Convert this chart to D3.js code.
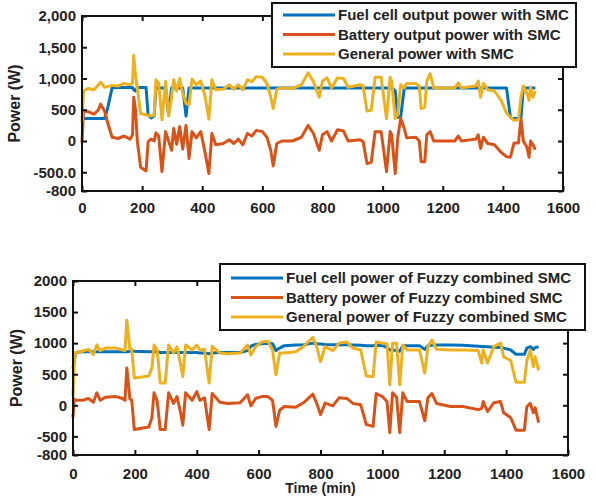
<!DOCTYPE html>
<html>
<head>
<meta charset="utf-8">
<script src="https://cdn.jsdelivr.net/npm/d3@7"></script>
<style>
	body { margin: 0; background: #fff; }
	svg { display: block; font-family: "Liberation Sans", Arial, sans-serif; font-weight: bold; }
</style>
</head>
<body>
<svg width="596" height="496"></svg>
<script>
const COLORS = ["#0072BD", "#D95319", "#EDB120"];

var xTicks = [0, 200, 400, 600, 800, 1000, 1200, 1400, 1600];
var yTicks = [-800, -500, 0, 500, 1000, 1500, 2000];
var topYLabels = ["-800", "-500.0", "0", "500", "1,000", "1,500", "2,000"];
var bottomYLabels = ["-800", "-500", "0", "500", "1000", "1500", "2000"];

var topLegend = ["Fuel cell output power with SMC", "Battery output power with SMC", "General power with SMC"];
var bottomLegend = ["Fuel cell power of Fuzzy combined SMC", "Battery power of Fuzzy combined SMC", "General power of Fuzzy combined SMC"];

// top panel (SMC), time in min
var topTime = [0, 5, 20, 40, 55, 62, 75, 85, 100, 120, 140, 160, 168, 172, 178, 184, 195, 213, 220, 230,
	240, 246, 255, 266, 278, 288, 298, 305, 315, 325, 335, 346, 356, 366, 380, 395, 410, 422, 432, 445,
	470, 490, 505, 520, 535, 550, 565, 580, 600, 615, 628, 636, 648, 665, 700, 730, 752, 770, 789, 800,
	815, 830, 850, 870, 885, 925, 935, 948, 962, 975, 995, 1013, 1025, 1030, 1042, 1050, 1060, 1072, 1080, 1110,
	1122, 1128, 1140, 1147, 1158, 1170, 1240, 1252, 1262, 1310, 1318, 1326, 1335, 1350, 1372, 1394, 1412, 1425, 1437, 1452,
	1460, 1468, 1480, 1487, 1492, 1500, 1508];
var topFuel = [360, 360, 360, 360, 360, 360, 360, 520, 850, 855, 855, 855, 855, 820, 800, 855, 855, 855, 420, 370,
	400, 850, 850, 850, 850, 420, 850, 850, 850, 850, 850, 400, 850, 850, 850, 850, 850, 850, 850, 850,
	850, 850, 850, 850, 850, 850, 850, 850, 850, 850, 850, 850, 850, 850, 850, 850, 850, 850, 850, 850,
	850, 850, 850, 850, 850, 850, 850, 850, 850, 850, 850, 850, 850, 850, 800, 380, 380, 850, 850, 850,
	850, 850, 850, 850, 850, 850, 850, 850, 850, 850, 850, 850, 850, 850, 850, 850, 850, 380, 360, 360,
	360, 850, 850, 850, 850, 850, 850];
var topBattery = [-30, 480, 470, 430, 500, 590, 480, 300, 60, 40, 80, 30, 100, 700, 500, 0, -420, -480, -10, 30,
	0, 130, 80, -490, 150, 0, -150, 200, -50, 230, -130, 250, -280, 150, 50, 150, -200, -520, 120, -60,
	-40, 20, -40, 30, -60, 120, 80, 170, 150, 60, -150, -400, -40, 0, 0, 60, 250, 120, -150, 100,
	150, 0, 180, 160, 0, 20, -10, -360, -340, 150, 150, -490, 150, 100, -520, 40, 360, 200, 50, 60,
	0, -330, -330, 100, 150, 0, 0, 80, 0, 30, 100, -120, 60, -40, -60, -180, -250, -260, -30, -30,
	360, 0, -100, -260, 0, -60, -140];
var topGeneral = [300, 800, 840, 820, 900, 940, 860, 870, 890, 880, 920, 900, 930, 1370, 1050, 850, 440, 420, 410, 400,
	410, 980, 930, 340, 950, 400, 700, 980, 800, 1000, 760, 600, 580, 990, 900, 960, 700, 350, 980, 820,
	830, 900, 830, 900, 820, 980, 950, 1030, 1020, 920, 700, 520, 830, 850, 840, 900, 1090, 950, 700, 960,
	1010, 850, 1010, 1000, 860, 900, 880, 480, 490, 1020, 1020, 360, 1020, 960, 360, 420, 900, 850, 920, 920,
	880, 520, 540, 960, 1080, 850, 850, 930, 850, 880, 960, 700, 920, 820, 800, 650, 450, 380, 330, 340,
	700, 880, 760, 650, 860, 700, 800];

// bottom panel (Fuzzy combined SMC)
var bottomTime = [0, 4, 8, 30, 50, 66, 77, 88, 105, 140, 160, 168, 174, 184, 190, 198, 245, 255, 262, 272,
	282, 298, 309, 325, 336, 347, 355, 364, 385, 400, 410, 425, 440, 450, 475, 500, 540, 564, 575, 590,
	610, 630, 645, 656, 668, 683, 720, 745, 775, 788, 800, 815, 840, 860, 885, 905, 930, 948, 970, 980,
	1000, 1015, 1024, 1033, 1046, 1056, 1066, 1080, 1120, 1137, 1147, 1160, 1175, 1220, 1260, 1310, 1321, 1326, 1340, 1360,
	1382, 1392, 1415, 1432, 1459, 1467, 1478, 1488, 1494, 1505];
var bottomFuel = [600, 700, 850, 860, 860, 860, 860, 860, 860, 860, 860, 860, 860, 870, 880, 870, 860, 860, 860, 860,
	850, 850, 850, 850, 850, 850, 850, 850, 850, 850, 840, 840, 830, 840, 850, 850, 850, 880, 950, 980,
	990, 1000, 990, 880, 920, 960, 970, 975, 1000, 990, 985, 980, 975, 975, 975, 970, 965, 960, 960, 965,
	960, 930, 890, 890, 880, 870, 960, 960, 960, 900, 960, 965, 970, 970, 965, 950, 945, 945, 940, 935,
	930, 920, 890, 820, 820, 920, 945, 900, 930, 940];
var bottomBattery = [-200, 100, 80, 80, 110, 50, 200, 80, 130, 140, 110, 80, 600, 100, 80, -390, -350, -200, 200, 70,
	-390, -390, 200, 30, 140, -100, -320, 200, 80, 220, 80, 120, -390, 190, 50, 30, 40, 170, -10, 110,
	140, 140, 80, -340, -80, -20, -30, 40, 180, 30, -150, 35, -10, 120, 110, 30, 10, -310, -340, 190,
	140, 60, -440, 200, 130, -440, 200, 60, 60, -250, 120, 190, 30, -20, -20, -70, -50, 60, -100, 40,
	60, -120, -200, -400, -400, -20, 30, -120, -40, -280];
var bottomGeneral = [150, 700, 850, 870, 900, 820, 970, 880, 920, 920, 890, 880, 1370, 900, 900, 440, 470, 600, 970, 890,
	360, 360, 970, 840, 940, 680, 460, 970, 890, 970, 890, 900, 360, 950, 840, 830, 840, 970, 810, 940,
	1020, 1030, 890, 490, 840, 840, 860, 945, 1095, 940, 700, 945, 880, 1000, 1020, 920, 890, 470, 460, 1020,
	1000, 990, 330, 1000, 1000, 330, 970, 890, 890, 520, 940, 1050, 900, 890, 890, 880, 680, 890, 680, 945,
	1000, 780, 720, 370, 370, 720, 890, 620, 780, 560];


function drawPanel(svg, cfg){
	var x = d3.scaleLinear().domain([0, 1600]).range([cfg.left, cfg.right]);
	var y = d3.scaleLinear().domain([-800, 2000]).range([cfg.bottom, cfg.top]);
	var g = svg.append("g");

	var line = d3.line()
		.x(function(d) { return x(d[0]); })
		.y(function(d) { return y(d[1]); });

	cfg.series.forEach(function(values, i){
		var pts = cfg.time.map(function(t, j){ return [t, values[j]]; });
		g.append("path")
			.datum(pts)
			.attr("fill", "none")
			.attr("stroke", COLORS[i])
			.attr("stroke-width", 3)
			.attr("stroke-linejoin", "round")
			.attr("d", line);
	});

	// axes, ticks inside like matlab
	g.append("g")
		.attr("transform", "translate(0," + cfg.bottom + ")")
		.call(d3.axisBottom(x).tickValues(xTicks).tickSizeInner(-5).tickSizeOuter(0).tickPadding(cfg.xPad)
			.tickFormat(d3.format("d")));
	g.append("g")
		.attr("transform", "translate(0," + cfg.top + ")")
		.call(d3.axisTop(x).tickValues(xTicks).tickSizeInner(-5).tickSizeOuter(0).tickFormat(""));
	g.append("g")
		.attr("transform", "translate(" + cfg.left + ",0)")
		.call(d3.axisLeft(y).tickValues(yTicks).tickSizeInner(-5).tickSizeOuter(0).tickPadding(6)
			.tickFormat(function(d, i){ return cfg.yLabels[i]; }));
	g.append("g")
		.attr("transform", "translate(" + cfg.right + ",0)")
		.call(d3.axisRight(y).tickValues(yTicks).tickSizeInner(-5).tickSizeOuter(0).tickFormat(""));

	g.selectAll(".domain").remove();
	g.selectAll(".tick line").attr("stroke", "#111").attr("stroke-width", 2);
	g.selectAll(".tick text")
		.attr("fill", "#222")
		.style("font-family", "'Liberation Sans', Arial, sans-serif")
		.style("font-weight", "bold")
		.style("font-size", "15px");

	g.append("rect")
		.attr("x", cfg.left)
		.attr("y", cfg.top)
		.attr("width", cfg.right - cfg.left)
		.attr("height", cfg.bottom - cfg.top)
		.attr("fill", "none")
		.attr("stroke", "#111")
		.attr("stroke-width", 2);

	g.append("text")
		.attr("transform", "translate(" + cfg.yTitleX + "," + ((cfg.top + cfg.bottom) / 2) + ") rotate(-90)")
		.attr("text-anchor", "middle")
		.attr("dy", "0.35em")
		.attr("fill", "#222")
		.style("font-size", "16px")
		.text("Power (W)");

	// legend
	var lg = cfg.legend;
	g.append("rect")
		.attr("x", lg.x)
		.attr("y", lg.y)
		.attr("width", lg.w)
		.attr("height", lg.h)
		.attr("fill", "#fff")
		.attr("stroke", "#111")
		.attr("stroke-width", 2);

	lg.labels.forEach(function(label, i){
		var ry = lg.y + lg.first + i * lg.step;
		g.append("line")
			.attr("x1", lg.x + 11)
			.attr("x2", lg.x + 63)
			.attr("y1", ry)
			.attr("y2", ry)
			.attr("stroke", COLORS[i])
			.attr("stroke-width", 3);
		g.append("text")
			.attr("x", lg.x + 66)
			.attr("y", ry)
			.attr("dy", "0.35em")
			.attr("fill", "#222")
			.style("font-size", "15px")
			.text(label);
	});
}

var svg = d3.select("svg");

drawPanel(svg, {
	left: 82, right: 563, top: 16, bottom: 191,
	xPad: 11, yTitleX: 14,
	time: topTime,
	series: [topFuel, topBattery, topGeneral],
	yLabels: topYLabels,
	legend: {x: 272, y: 3, w: 304, h: 64, first: 12, step: 19.5, labels: topLegend}
});

drawPanel(svg, {
	left: 73, right: 568, top: 281, bottom: 455,
	xPad: 13, yTitleX: 16,
	time: bottomTime,
	series: [bottomFuel, bottomBattery, bottomGeneral],
	yLabels: bottomYLabels,
	legend: {x: 220, y: 264, w: 365, h: 66, first: 14, step: 19.5, labels: bottomLegend}
});

svg.append("text")
	.attr("x", (73 + 568) / 2)
	.attr("y", 493)
	.attr("text-anchor", "middle")
	.attr("fill", "#222")
	.style("font-size", "14px")
	.text("Time (min)");
</script>
</body>
</html>
